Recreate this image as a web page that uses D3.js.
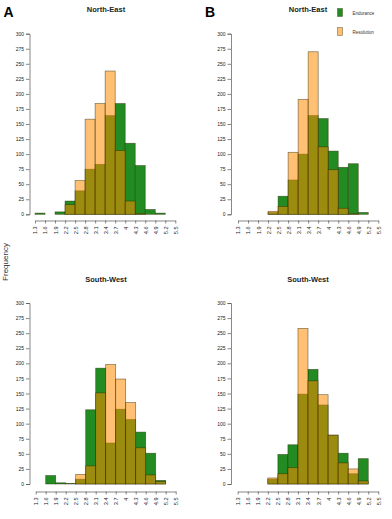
<!DOCTYPE html>
<html>
<head>
<meta charset="utf-8">
<script src="https://cdn.jsdelivr.net/npm/d3@7"></script>
<style>
  body { margin: 0; background: #fff; }
  svg { font-family: "Liberation Sans", Arial, sans-serif; }
</style>
</head>
<body>
<div id="chart"></div>
<script>
// bin left edges, width 0.3
var binStarts = [1.3, 1.6, 1.9, 2.2, 2.5, 2.8, 3.1, 3.4, 3.7, 4.0, 4.3, 4.6, 4.9, 5.2];
var xTicks = [1.3, 1.6, 1.9, 2.2, 2.5, 2.8, 3.1, 3.4, 3.7, 4, 4.3, 4.6, 4.9, 5.2, 5.5];
var yTicks = [0, 25, 50, 75, 100, 125, 150, 175, 200, 225, 250, 275, 300];

// frequencies per bin
var neA_endurance  = [2, 0, 4, 22, 39, 75, 83, 164, 184, 118, 81, 8, 2, 0];
var neA_resolution = [0, 0, 0, 16, 56, 158, 184, 238, 106, 22, 1, 0, 0, 0];
var neB_endurance  = [0, 0, 0, 3, 30, 57, 100, 164, 159, 105, 78, 84, 3, 0];
var neB_resolution = [0, 0, 0, 5, 13, 103, 191, 270, 112, 74, 10, 1, 0, 0];
var swA_endurance  = [0, 14, 2, 1, 8, 123, 192, 68, 124, 107, 86, 51, 6, 0];
var swA_resolution = [0, 0, 0, 0, 16, 30, 151, 198, 174, 135, 60, 15, 4, 0];
var swB_endurance  = [0, 0, 0, 8, 49, 65, 149, 190, 131, 81, 51, 17, 42, 0];
var swB_resolution = [0, 0, 0, 10, 17, 27, 258, 171, 148, 81, 35, 25, 5, 0];

var panels = [
  {title: "North-East", letter: "A", end: neA_endurance, res: neA_resolution,
   ax: 29.5, x0: 35, x1: 175.3, yb: 214.3, yt: 33.7, xa: 220.5, tx: 106, ty: 12},
  {title: "North-East", letter: "B", end: neB_endurance, res: neB_resolution,
   ax: 231, x0: 238, x1: 378.3, yb: 214.3, yt: 33.7, xa: 220.5, tx: 308, ty: 12},
  {title: "South-West", letter: null, end: swA_endurance, res: swA_resolution,
   ax: 29.5, x0: 35.7, x1: 175.7, yb: 484, yt: 303, xa: 491.5, tx: 106, ty: 282},
  {title: "South-West", letter: null, end: swB_endurance, res: swB_resolution,
   ax: 231, x0: 237.7, x1: 378.3, yb: 484, yt: 303, xa: 491.5, tx: 308, ty: 282}
];

var font = "'Liberation Sans', Arial, sans-serif";

var svg = d3.select("#chart").append("svg")
  .attr("width", 392)
  .attr("height", 519);

panels.forEach(function(p) {
  var x = d3.scaleLinear().domain([1.3, 5.5]).range([p.x0, p.x1]);
  var y = d3.scaleLinear().domain([0, 300]).range([p.yb, p.yt]);
  var g = svg.append("g");

  // green first, orange (semi-transparent) over it
  [["end", "#228B22"], ["res", "rgba(255,140,0,0.55)"]].forEach(function(s) {
    g.selectAll(null)
      .data(p[s[0]].map(function(v, i) { return {x: binStarts[i], v: v}; }))
      .enter().append("rect")
      .attr("x", function(d) { return x(d.x); })
      .attr("width", function(d) { return x(d.x + 0.3) - x(d.x); })
      .attr("y", function(d) { return y(d.v); })
      .attr("height", function(d) { return y(0) - y(d.v); })
      .attr("fill", s[1])
      .attr("stroke", "rgba(40,40,0,0.6)")
      .attr("stroke-width", 0.7);
  });

  // y axis, R style
  var ya = g.append("g")
    .attr("transform", "translate(" + p.ax + ",0)")
    .call(d3.axisLeft(y).tickValues(yTicks).tickSize(3.5).tickPadding(2).tickFormat(d3.format("d")));
  ya.attr("font-family", font);
  ya.select(".domain").attr("stroke", "#555").attr("stroke-width", 0.7);
  ya.selectAll(".tick line").attr("stroke", "#555").attr("stroke-width", 0.7);
  ya.selectAll("text").attr("font-size", 5).attr("fill", "#222");

  // x axis
  var xa = g.append("g")
    .attr("transform", "translate(0," + p.xa + ")")
    .call(d3.axisBottom(x).tickValues(xTicks).tickSize(3).tickSizeOuter(0).tickFormat(d3.format("")));
  xa.attr("font-family", font);
  xa.select(".domain").attr("stroke", "#555").attr("stroke-width", 0.7);
  xa.selectAll(".tick line").attr("stroke", "#555").attr("stroke-width", 0.7);
  xa.selectAll("text")
    .attr("font-size", 5.6)
    .attr("fill", "#222")
    .attr("text-anchor", "end")
    .attr("dy", "0.35em")
    .attr("transform", "rotate(-90)")
    .attr("x", -6)
    .attr("y", 0);

  g.append("text")
    .attr("x", p.tx)
    .attr("y", p.ty)
    .attr("text-anchor", "middle")
    .attr("font-size", 7.5)
    .attr("font-weight", "bold")
    .attr("fill", "#222")
    .text(p.title);

  if (p.letter) {
    g.append("text")
      .attr("x", p.ax - 26)
      .attr("y", 17)
      .attr("font-size", 14)
      .attr("font-weight", "bold")
      .attr("fill", "#000")
      .text(p.letter);
  }
});

// legend
var legend = [["Endurance", "#228B22"], ["Resolution", "rgba(255,140,0,0.55)"]];
var lg = svg.append("g");
lg.selectAll("rect")
  .data(legend)
  .enter().append("rect")
  .attr("x", 337.5)
  .attr("y", function(d, i) { return 8.5 + i * 19; })
  .attr("width", 5)
  .attr("height", 8)
  .attr("fill", function(d) { return d[1]; })
  .attr("stroke", "rgba(40,40,0,0.6)")
  .attr("stroke-width", 0.6);
lg.selectAll("text")
  .data(legend)
  .enter().append("text")
  .attr("x", 352.5)
  .attr("y", function(d, i) { return 14.5 + i * 19; })
  .attr("font-size", 4.5)
  .attr("fill", "#333")
  .text(function(d) { return d[0]; });

// shared y label
svg.append("text")
  .attr("transform", "translate(7.5,262) rotate(-90)")
  .attr("text-anchor", "middle")
  .attr("font-size", 8)
  .attr("fill", "#333")
  .text("Frequency");
</script>
</body>
</html>
